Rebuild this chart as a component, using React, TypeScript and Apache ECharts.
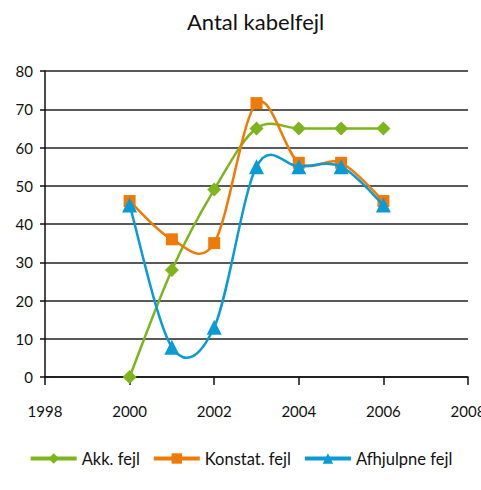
import React, { useEffect, useRef } from "react";
import * as echarts from "echarts";

const years = [2000, 2001, 2002, 2003, 2004, 2005, 2006];
const akkFejl = [0, 28, 49, 65, 65, 65, 65];
const konstatFejl = [46, 36, 35, 71.6, 56, 56, 46];
const afhjulpneFejl = [45, 7.8, 13, 55, 55, 55, 45];

const seriesNames = ["Akk. fejl", "Konstat. fejl", "Afhjulpne fejl"];
const colors = ["#7DB51C", "#EE7B06", "#0A9AD6"];
const symbols = ["diamond", "rect", "triangle"];
const symbolSizes = [14, 12, 15];

const FONT = "Lato, 'Open Sans', sans-serif";

// Catmull-Rom style smoothing segment, computed in pixel space from the axis scales.
function makeSmoothRenderer(vals: number[], color: string) {
  return (params: any, api: any) => {
    const i = params.dataIndex;
    if (i >= vals.length - 1) return null;
    const pt = (k: number) => {
      const kk = Math.max(0, Math.min(vals.length - 1, k));
      return api.coord([years[kk], vals[kk]]);
    };
    const p0 = pt(i - 1);
    const p1 = pt(i);
    const p2 = pt(i + 1);
    const p3 = pt(i + 2);
    const cp1 = [p1[0] + (p2[0] - p0[0]) / 6, p1[1] + (p2[1] - p0[1]) / 6];
    const cp2 = [p2[0] - (p3[0] - p1[0]) / 6, p2[1] - (p3[1] - p1[1]) / 6];
    return {
      type: "bezierCurve",
      shape: {
        x1: p1[0],
        y1: p1[1],
        x2: p2[0],
        y2: p2[1],
        cpx1: cp1[0],
        cpy1: cp1[1],
        cpx2: cp2[0],
        cpy2: cp2[1],
      },
      style: { stroke: color, lineWidth: 2.5, fill: null },
    };
  };
}

export default function App() {
  const ref = useRef<HTMLDivElement>(null);

  useEffect(() => {
    if (!ref.current) return;
    const chart = echarts.init(ref.current, null, { renderer: "svg" });
    const dataSets = [akkFejl, konstatFejl, afhjulpneFejl];
    const toPairs = (vals: number[]) => years.map((y, i) => [y, vals[i]]);

    const curveSeries = dataSets.map((vals, i) => ({
      name: seriesNames[i] + " kurve",
      type: "custom",
      renderItem: makeSmoothRenderer(vals, colors[i]),
      data: toPairs(vals),
      silent: true,
      z: 2 + i * 2,
    }));

    const markerSeries = dataSets.map((vals, i) => ({
      name: seriesNames[i],
      type: "line",
      data: toPairs(vals),
      symbol: symbols[i],
      symbolSize: symbolSizes[i],
      showSymbol: true,
      color: colors[i],
      lineStyle: { width: 0, opacity: 0 },
      itemStyle: { color: colors[i] },
      z: 3 + i * 2,
    }));

    chart.setOption({
      animation: false,
      backgroundColor: "#ffffff",
      title: {
        text: "Antal kabelfejl",
        left: 182,
        top: 5,
        textStyle: { fontFamily: FONT, fontSize: 22, fontWeight: "normal", color: "#111" },
      },
      legend: {
        bottom: 18,
        left: "center",
        itemWidth: 46,
        itemHeight: 13,
        itemGap: 12,
        textStyle: { fontFamily: FONT, fontSize: 16.5, color: "#111" },
        data: seriesNames.map((n, i) => ({
          name: n,
          itemStyle: { color: colors[i] },
          lineStyle: { width: 4, opacity: 1, color: colors[i] },
        })),
      },
      grid: {
        left: 45,
        right: 13,
        top: 71,
        bottom: 113,
        containLabel: false,
        outerBoundsMode: "none",
      },
      xAxis: {
        type: "value",
        min: 1998,
        max: 2008,
        interval: 2,
        axisLine: { show: true, onZero: false, lineStyle: { color: "#111", width: 1.5 } },
        axisTick: { show: true, length: 8, lineStyle: { color: "#111", width: 1.5 } },
        splitLine: { show: false },
        axisLabel: {
          margin: 26,
          fontFamily: FONT,
          fontSize: 15,
          color: "#111",
          formatter: (v: number) => String(v),
        },
      },
      yAxis: {
        type: "value",
        min: 0,
        max: 80,
        interval: 10,
        axisLine: { show: true, lineStyle: { color: "#111", width: 1.5 } },
        axisTick: { show: true, length: 5, lineStyle: { color: "#111", width: 1.5 } },
        splitLine: { show: true, lineStyle: { color: "#222", width: 1.6 } },
        axisLabel: { margin: 12, fontFamily: FONT, fontSize: 15, color: "#111" },
      },
      series: [...curveSeries, ...markerSeries],
    });
    return () => chart.dispose();
  }, []);

  return (
    <div
      ref={ref}
      style={{ position: "absolute", left: 0, top: 0, width: 481, height: 490 }}
    />
  );
}
